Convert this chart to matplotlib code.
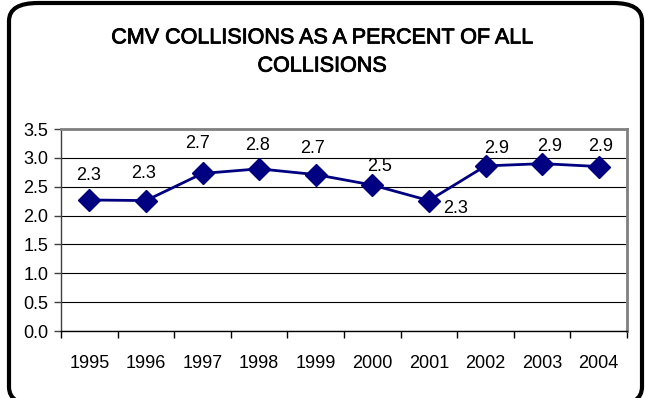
import matplotlib
matplotlib.use("Agg")
import matplotlib.pyplot as plt
import matplotlib.patheffects as pe
from matplotlib.patches import FancyBboxPatch

plt.rcParams['font.family'] = ['Liberation Sans', 'DejaVu Sans']

years = ['1995', '1996', '1997', '1998', '1999', '2000', '2001', '2002', '2003', '2004']
percent = [2.27, 2.26, 2.73, 2.81, 2.71, 2.53, 2.26, 2.86, 2.90, 2.85]
title = 'CMV COLLISIONS AS A PERCENT OF ALL\nCOLLISIONS'

# label nudges in pixels (dx, dy)
label_offsets = [(-1, 24), (-2, 27), (-5, 30), (-2, 23), (-3, 26),
                 (7, 18), (27, -8), (11, 17), (8, 17), (2, 20)]

W, H, DPI = 645, 398, 100
fig = plt.figure(figsize=(W / DPI, H / DPI), dpi=DPI)
fig.patch.set_facecolor('white')

# rounded outer frame
frame = FancyBboxPatch((9 / W, -7 / H), 633 / W, (H - 3 + 7) / H,
                       boxstyle="round,pad=0,rounding_size=0.045",
                       transform=fig.transFigure, fill=False,
                       edgecolor='black', linewidth=3.0, clip_on=False)
fig.patches.append(frame)

ax = fig.add_axes([61 / W, (H - 331) / H, 566 / W, 202 / H])
x = list(range(len(years)))
navy = '#000080'
ax.plot(x, percent, color=navy, linewidth=2.0, marker='D', markersize=11.5,
        markerfacecolor=navy, markeredgecolor=navy, zorder=3)

for xi, v, (dx, dy) in zip(x, percent, label_offsets):
    ax.annotate(f'{v:.1f}', (xi, v), xytext=(dx, dy), textcoords='offset pixels',
                ha='center', va='center', fontsize=13, color='black')

ax.set_xlim(-0.5, len(years) - 0.5)
ax.set_ylim(0, 3.5)
ax.set_yticks([0, 0.5, 1.0, 1.5, 2.0, 2.5, 3.0, 3.5])
ax.set_yticklabels([f'{t:.1f}' for t in ax.get_yticks()])
ax.set_xticks(x)
ax.set_xticklabels(years)
ax.set_xticks([i - 0.5 for i in range(len(years) + 1)], minor=True)
ax.tick_params(axis='x', which='major', length=0, pad=17, labelsize=13)
ax.tick_params(axis='x', which='minor', length=5, width=1, color='black')
ax.tick_params(axis='y', length=5, width=1, color='#404040', pad=4, labelsize=13)

ax.yaxis.grid(True, color='black', linewidth=0.8)
ax.set_axisbelow(True)
for side in ('top', 'right'):
    ax.spines[side].set_color('#808080')
    ax.spines[side].set_linewidth(2.0)
ax.spines['left'].set_color('#404040')
ax.spines['bottom'].set_color('black')
ax.spines['left'].set_linewidth(1.0)
ax.spines['bottom'].set_linewidth(1.0)

fig.text(322 / W, 1 - 52 / H, title, ha='center', va='center',
         fontsize=15.5, linespacing=1.45, color='black',
         path_effects=[pe.withStroke(linewidth=0.6, foreground='black')])

fig.savefig('out.png', dpi=DPI, facecolor='white')
